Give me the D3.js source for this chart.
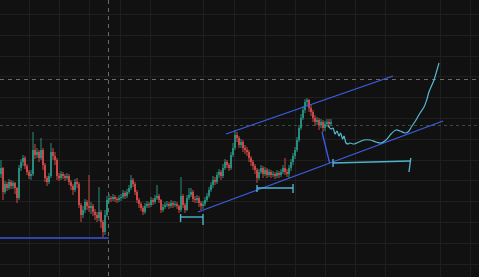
<!DOCTYPE html>
<html>
<head>
<meta charset="utf-8">
<script src="https://cdn.jsdelivr.net/npm/d3@7"></script>
<style>
  html, body { margin: 0; padding: 0; background: #111111; overflow: hidden; }
</style>
</head>
<body>
<div class="container"></div>
<script>
var svgWidth = 479;
var svgHeight = 277;

// closing prices, one per bar (open = previous close)
var closes = [132,108,116,112,118,114,117,112,102,132,138,142,134,128,124,126,150,145,148,142,
  150,135,122,118,124,148,144,140,124,122,126,124,122,124,118,114,110,118,116,95,
  85,90,98,94,92,94,88,85,82,88,78,68,85,100,102,101,103,101,100,102,
  103,107,104,108,112,120,116,108,100,96,92,88,94,96,95,100,98,102,104,100,
  90,93,95,96,94,97,95,96,94,90,104,95,90,102,105,108,101,100,102,97,
  94,96,100,104,110,115,120,118,125,128,124,132,138,135,132,145,152,165,162,155,
  158,152,150,148,142,138,134,130,122,128,132,126,130,125,128,125,126,124,127,125,
  128,132,128,126,132,138,144,150,160,172,182,190,198,200,192,188,182,178,180,175,
  178,172,176,178,176,178];
var highs = [140,133,119,118,121,120,119,118,113,135,141,145,144,136,130,130,168,156,152,150,
  162,152,137,124,127,157,152,148,142,127,129,128,126,127,126,120,116,121,122,118,
  97,94,101,100,125,98,96,91,88,113,90,80,90,104,106,104,106,105,103,105,
  106,110,109,111,115,125,122,118,110,102,98,94,97,99,98,103,102,105,115,106,
  101,96,98,99,98,100,99,99,98,95,123,106,97,105,112,112,110,104,105,104,
  99,99,103,107,113,118,124,123,128,131,130,136,141,140,137,148,157,170,168,164,
  161,160,155,153,150,144,140,136,132,131,135,134,133,132,131,130,129,128,130,129,
  131,135,142,131,135,141,147,153,163,175,186,194,201,202,201,195,190,185,183,182,
  181,180,179,181,181,181];
var lows = [122,100,106,109,110,111,111,106,97,100,129,134,131,125,121,120,124,141,142,138,
  140,130,118,114,116,122,140,135,120,119,120,121,119,120,115,110,105,108,112,92,
  78,82,87,90,88,86,84,80,78,79,72,62,65,83,97,98,99,98,97,98,
  99,101,101,102,106,110,113,105,97,92,89,85,86,92,92,93,95,96,100,97,
  87,88,91,93,91,92,92,93,91,87,88,92,87,89,100,103,98,97,97,93,
  90,91,94,98,102,108,112,115,116,122,120,122,130,132,129,130,143,150,158,152,
  152,148,146,144,138,134,130,126,117,120,126,122,124,122,123,122,123,121,122,122,
  123,126,125,123,122,129,135,141,148,158,170,180,187,194,188,184,178,174,175,170,
  172,168,169,173,172,174];

// drawn annotations, as [bar, price]
var upperChannel = [[113, 166], [196.5, 224]];
var lowerChannel = [[99, 88], [221.5, 179]];
var dropLine = [[161, 168], [164.8, 137]];
var supportLine = [[0, 62], [54.5, 62]];
var projection = [[164,175],[165.5,171],[166.5,172],[167.5,166],[168.5,169],[169.5,164],[170.3,167],[171.3,161],
  [172,164],[173,157],[174,156],[175,157],[177,156],[179.5,158],[182,160],[185,160],[188,158],[190.5,157],
  [193,160],[195.5,166],[198,170],[200,169],[202.5,167],[204,168],[206,174],[208,180],[210,187],[212,193],
  [213.5,201],[214.3,207],[215.5,213],[217,220],[218.5,230],[219.5,237]];
var brackets = [
  [[90.3, 86], [90.3, 78], [90.3, 83], [101.5, 83], [101.5, 86], [101.5, 75]],
  [[128.5, 115], [128.5, 108], [128.5, 112], [146.5, 112], [146.5, 116], [146.5, 107]],
  [[166.5, 141], [166.5, 133], [166.5, 137], [205, 139], [205.4, 142], [204.5, 128]]
];
var crossPrice = 221;
var crossBar = 54;
var markPrice = 175;

// grid
var gridBars = [14.5, 29.5, 44.5, 60, 75, 101.5, 117, 132.5, 147.5, 162.5, 177.5, 192.5, 220, 235];
var gridPrices = [286, 265, 244, 224, 203, 182, 161, 140, 120, 99, 78, 57, 36];

var candles = closes.map(function(c, i) {
  return {
    i: i,
    open: i === 0 ? 126 : closes[i - 1],
    close: c,
    high: highs[i],
    low: lows[i]
  };
});

var xScale = d3.scaleLinear()
  .domain([0, 239.5])
  .range([0, svgWidth]);

var yScale = d3.scaleLinear()
  .domain([23, 300])
  .range([svgHeight, 0]);

var svg = d3
  .select(".container")
  .append("svg")
  .attr("width", svgWidth)
  .attr("height", svgHeight)
  .style("display", "block")
  .style("background", "#111111");

var grid = svg.append("g");
grid.selectAll(".vgrid")
  .data(gridBars)
  .enter()
  .append("line")
  .attr("x1", d => Math.round(xScale(d)) + 0.5)
  .attr("x2", d => Math.round(xScale(d)) + 0.5)
  .attr("y1", 0)
  .attr("y2", svgHeight)
  .attr("stroke", "#1f1f1f");
grid.selectAll(".hgrid")
  .data(gridPrices)
  .enter()
  .append("line")
  .attr("x1", 0)
  .attr("x2", svgWidth)
  .attr("y1", d => Math.round(yScale(d)) + 0.5)
  .attr("y2", d => Math.round(yScale(d)) + 0.5)
  .attr("stroke", "#1f1f1f");

// crosshair + price marker
svg.append("line")
  .attr("x1", 0).attr("x2", svgWidth)
  .attr("y1", Math.round(yScale(markPrice)) + 0.5)
  .attr("y2", Math.round(yScale(markPrice)) + 0.5)
  .attr("stroke", "#3a4a42")
  .attr("stroke-dasharray", "3,3");
svg.append("line")
  .attr("x1", 0).attr("x2", svgWidth)
  .attr("y1", Math.round(yScale(crossPrice)) + 0.5)
  .attr("y2", Math.round(yScale(crossPrice)) + 0.5)
  .attr("stroke", "#6a6a6a")
  .attr("stroke-dasharray", "4,4");
svg.append("line")
  .attr("x1", Math.round(xScale(crossBar)) + 0.5)
  .attr("x2", Math.round(xScale(crossBar)) + 0.5)
  .attr("y1", 0).attr("y2", svgHeight)
  .attr("stroke", "#6a6a6a")
  .attr("stroke-dasharray", "4,4");

// candles
var barW = xScale(1) - xScale(0);
var chartGroup = svg.append("g");

chartGroup.selectAll(".wick")
  .data(candles)
  .enter()
  .append("line")
  .attr("x1", d => xScale(d.i) + barW / 2)
  .attr("x2", d => xScale(d.i) + barW / 2)
  .attr("y1", d => yScale(d.high))
  .attr("y2", d => yScale(d.low))
  .attr("stroke", d => d.close >= d.open ? "#2a9d8a" : "#e0504d")
  .attr("stroke-width", 0.9);

chartGroup.selectAll(".bar")
  .data(candles)
  .enter()
  .append("rect")
  .attr("x", d => xScale(d.i) + 0.2)
  .attr("width", barW - 0.4)
  .attr("y", d => yScale(Math.max(d.open, d.close)))
  .attr("height", d => Math.max(1, Math.abs(yScale(d.open) - yScale(d.close))))
  .attr("fill", d => d.close >= d.open ? "#2a9d8a" : "#e0504d");

// drawings
var line = d3.line()
  .x(d => xScale(d[0]))
  .y(d => yScale(d[1]));

svg.append("path")
  .attr("d", line(supportLine))
  .attr("stroke", "#2e44a8")
  .attr("stroke-width", 2.2)
  .attr("fill", "none");

[upperChannel, lowerChannel, dropLine].forEach(function(seg) {
  svg.append("path")
    .attr("d", line(seg))
    .attr("stroke", "#3d5fe6")
    .attr("stroke-width", 1.3)
    .attr("fill", "none");
});

brackets.forEach(function(b) {
  var segs = [[b[0], b[1]], [b[2], b[3]], [b[4], b[5]]];
  segs.forEach(function(s) {
    svg.append("path")
      .attr("d", line(s))
      .attr("stroke", "#4fb3cc")
      .attr("stroke-width", 1.4)
      .attr("fill", "none");
  });
});

svg.append("path")
  .attr("d", d3.line()
    .x(d => xScale(d[0]))
    .y(d => yScale(d[1]))
    .curve(d3.curveCatmullRom)(projection))
  .attr("stroke", "#56bcd6")
  .attr("stroke-width", 1.2)
  .attr("fill", "none");
</script>
</body>
</html>
